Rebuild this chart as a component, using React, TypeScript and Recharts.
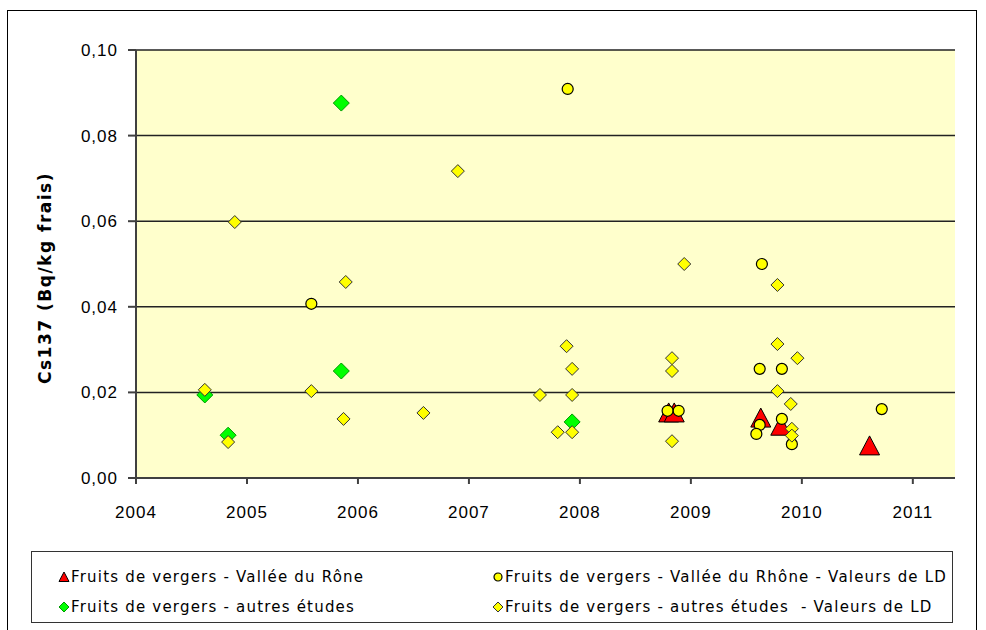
import { ScatterChart, Scatter, XAxis, YAxis, CartesianGrid } from "recharts";

// Fruits de vergers - Vallée du Rône (triangles rouges)
const rhoneX = [2008.8, 2008.85, 2009.63, 2009.81, 2010.61];
const rhoneY = [0.0152, 0.0152, 0.014, 0.0121, 0.0075];

// Fruits de vergers - Vallée du Rhône - Valeurs de LD (ronds jaunes)
const rhoneLdX = [2005.58, 2007.89, 2008.79, 2008.89, 2009.64, 2009.62, 2009.82, 2009.62, 2009.59, 2009.82, 2009.91, 2010.72];
const rhoneLdY = [0.0407, 0.0909, 0.0157, 0.0157, 0.05, 0.0255, 0.0255, 0.0124, 0.0103, 0.0138, 0.0079, 0.0161];

// Fruits de vergers - autres études (losanges verts)
const autresX = [2004.62, 2004.83, 2005.85, 2005.85, 2007.93];
const autresY = [0.0194, 0.01, 0.0876, 0.025, 0.0131];

// Fruits de vergers - autres études - Valeurs de LD (losanges jaunes)
const autresLdX = [
  2004.62, 2004.83, 2004.89, 2005.58, 2005.89, 2005.87, 2006.59, 2006.9, 2007.64, 2007.88, 2007.93, 2007.93, 2007.8,
  2007.93, 2008.83, 2008.83, 2008.83, 2008.94, 2009.78, 2009.78, 2009.96, 2009.78, 2009.9, 2009.91, 2009.91,
];
const autresLdY = [
  0.0206, 0.0084, 0.0598, 0.0203, 0.0458, 0.0138, 0.0152, 0.0717, 0.0194, 0.0308, 0.0255, 0.0194, 0.0107, 0.0107,
  0.028, 0.025, 0.0086, 0.05, 0.0451, 0.0313, 0.028, 0.0203, 0.0173, 0.0115, 0.0099,
];

const yearTicks = [2004, 2005, 2006, 2007, 2008, 2009, 2010, 2011];
const valueTicks = [0, 0.02, 0.04, 0.06, 0.08, 0.1];

const legendLabels = [
  "Fruits de vergers - Vallée du Rône",
  "Fruits de vergers - Vallée du Rhône - Valeurs de LD",
  "Fruits de vergers - autres études",
  "Fruits de vergers - autres études  - Valeurs de LD",
];

const toPoints = (xs: number[], ys: number[]) => xs.map((x, i) => ({ x, y: ys[i] }));

const Triangle = ({ cx, cy, s = 10 }: any) => (
  <polygon
    points={`${cx},${cy - s} ${cx - s},${cy + s * 0.9} ${cx + s},${cy + s * 0.9}`}
    fill="#ff0000"
    stroke="#000"
    strokeWidth={1}
  />
);

const Dot = ({ cx, cy, r = 5.5 }: any) => (
  <circle cx={cx} cy={cy} r={r} fill="#ffff00" stroke="#000" strokeWidth={1.2} />
);

const Diamond = ({ cx, cy, s = 6.5, fill = "#ffff00", stroke = "#333" }: any) => (
  <polygon
    points={`${cx},${cy - s} ${cx + s},${cy} ${cx},${cy + s} ${cx - s},${cy}`}
    fill={fill}
    stroke={stroke}
    strokeWidth={1}
  />
);

const tickStyle = { fontSize: 17, fill: "#000", fontFamily: "Liberation Sans, Arial", letterSpacing: 1 };
const legendFont = { fontFamily: "DejaVu Sans, Verdana", fontSize: 15, letterSpacing: 1.2, color: "#000" };

const LegendItem = ({ idx, label }: { idx: number; label: string }) => {
  const marker =
    idx === 0 ? (
      <Triangle cx={6} cy={7} s={5} />
    ) : idx === 1 ? (
      <Dot cx={6} cy={7} r={4} />
    ) : idx === 2 ? (
      <Diamond cx={6} cy={7} s={5} fill="#00ff00" stroke="#009900" />
    ) : (
      <Diamond cx={6} cy={7} s={5} />
    );
  return (
    <div style={{ display: "flex", alignItems: "center", ...legendFont }}>
      <svg width={12} height={14} style={{ marginRight: 1 }}>
        {marker}
      </svg>
      <span style={{ whiteSpace: "pre" }}>{label}</span>
    </div>
  );
};

export default function App() {
  return (
    <div style={{ position: "absolute", left: 0, top: 0, width: 986, height: 630, background: "#fff", overflow: "hidden" }}>
      <div
        style={{
          position: "absolute",
          left: 7,
          top: 10,
          width: 970,
          height: 640,
          border: "1px solid #000",
          boxSizing: "border-box",
        }}
      />
      <div style={{ position: "absolute", left: 0, top: 0 }}>
        <ScatterChart width={986} height={630} margin={{ top: 50, right: 31, bottom: 112, left: 56 }}>
          <CartesianGrid horizontal vertical={false} stroke="#222" strokeWidth={1.5} fill="#ffffcc" fillOpacity={1} />
          <XAxis
            type="number"
            dataKey="x"
            domain={[2004, 2011.38]}
            ticks={yearTicks}
            allowDataOverflow
            height={40}
            tickSize={6}
            tickMargin={22}
            tick={tickStyle}
            stroke="#404040"
            axisLine={{ stroke: "#404040", strokeWidth: 2 }}
            tickLine={{ stroke: "#404040", strokeWidth: 2 }}
          />
          <YAxis
            type="number"
            dataKey="y"
            domain={[0, 0.1]}
            ticks={valueTicks}
            width={80}
            tickSize={8}
            tickMargin={10}
            tick={tickStyle}
            tickFormatter={(v: number) => v.toFixed(2).replace(".", ",")}
            axisLine={{ stroke: "#404040", strokeWidth: 2 }}
            tickLine={{ stroke: "#404040", strokeWidth: 2 }}
            label={{
              content: () => (
                <text
                  x={45}
                  y={278}
                  transform="rotate(-90 45 278)"
                  textAnchor="middle"
                  dominantBaseline="central"
                  fontFamily="DejaVu Sans, Verdana"
                  fontWeight="bold"
                  fontSize={17}
                  letterSpacing={1.5}
                  fill="#000"
                >
                  Cs137 (Bq/kg frais)
                </text>
              ),
            }}
          />
          <Scatter
            data={toPoints(rhoneX, rhoneY)}
            isAnimationActive={false}
            shape={(p: any) => <Triangle cx={p.cx} cy={p.cy} />}
          />
          <Scatter
            data={toPoints(rhoneLdX, rhoneLdY)}
            isAnimationActive={false}
            shape={(p: any) => <Dot cx={p.cx} cy={p.cy} />}
          />
          <Scatter
            data={toPoints(autresX, autresY)}
            isAnimationActive={false}
            shape={(p: any) => <Diamond cx={p.cx} cy={p.cy} s={8} fill="#00ff00" stroke="#009900" />}
          />
          <Scatter
            data={toPoints(autresLdX, autresLdY)}
            isAnimationActive={false}
            shape={(p: any) => <Diamond cx={p.cx} cy={p.cy} />}
          />
        </ScatterChart>
      </div>
      <div
        style={{
          position: "absolute",
          left: 31,
          top: 551,
          width: 922,
          height: 72,
          border: "1.5px solid #333",
          boxSizing: "border-box",
          display: "grid",
          gridTemplateColumns: "434px 1fr",
          gridTemplateRows: "30px 30px",
          padding: "10px 0 0 26px",
        }}
      >
        {legendLabels.map((l, i) => (
          <LegendItem key={i} idx={i} label={l} />
        ))}
      </div>
    </div>
  );
}
